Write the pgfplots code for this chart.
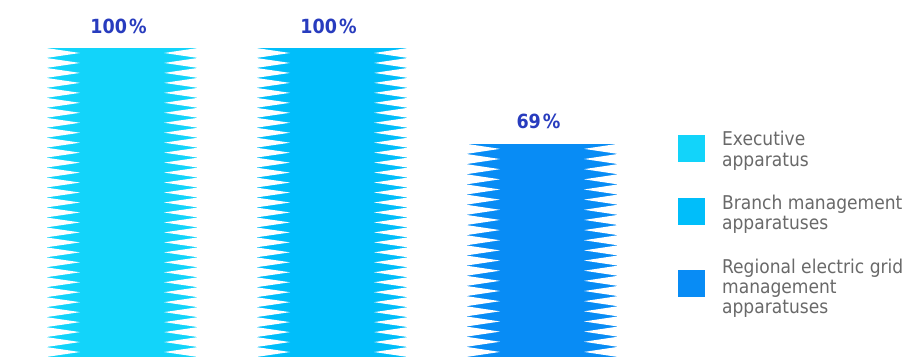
\documentclass[border=0pt]{standalone}
\usepackage{pgfplots}
\pgfplotsset{compat=1.18}
\usepackage{fontspec}
\setmainfont{DejaVu Sans Condensed}
\definecolor{cA}{RGB}{18,212,250}
\definecolor{cB}{RGB}{0,190,250}
\definecolor{cC}{RGB}{8,140,245}
\definecolor{labblue}{RGB}{40,60,190}
\definecolor{leggray}{RGB}{105,105,105}

\pgfdeclareplotmark{nothing}{}
\def\legshift{0pt}
\tikzset{legshift/.code={\def\legshift{#1}}}
% white notches along both sides of a bar whose top centre is the origin
\newcommand\drawspikes[1]{%
  \pgfmathsetmacro\shh{#1}%
  \pgfmathtruncatemacro\snn{max(1,round(\shh/10))}%
  \pgfmathsetmacro\spp{\shh/\snn}%
  \pgfsetfillcolor{white}%
  \foreach \k in {1,...,\snn}{%
    \pgfmathsetmacro\ylo{-\shh+(\k-1)*\spp}%
    \pgfmathsetmacro\ymid{-\shh+(\k-0.5)*\spp}%
    \pgfmathsetmacro\yhi{-\shh+\k*\spp}%
    \pgfpathmoveto{\pgfpoint{-76pt}{\ylo pt}}%
    \pgfpathlineto{\pgfpoint{-42pt}{\ymid pt}}%
    \pgfpathlineto{\pgfpoint{-76pt}{\yhi pt}}%
    \pgfpathclose
    \pgfpathmoveto{\pgfpoint{76pt}{\ylo pt}}%
    \pgfpathlineto{\pgfpoint{42pt}{\ymid pt}}%
    \pgfpathlineto{\pgfpoint{76pt}{\yhi pt}}%
    \pgfpathclose
    \pgfusepath{fill}%
  }%
}
\pgfplotsset{spiky/.style={
  scatter, mark=nothing,
  point meta=y, point meta min=0, point meta max=100,
  scatter/@pre marker code/.code={%
    \pgfmathsetmacro\barh{\pgfplotspointmetatransformed*0.309}%
    \pgfmathsetmacro\barv{\pgfplotspointmetatransformed/10}%
    \pgfscope\drawspikes{\barh}%
    \pgftext[base,at={\pgfpoint{-3.5pt}{15pt}}]{\color{labblue}\fontsize{19.5}{19.5}\selectfont\bfseries
      \pgfmathprintnumber[fixed,precision=0,assume math mode=true]{\barv}\kern2pt\%}%
  },
  scatter/@post marker code/.code={\endpgfscope},
}}

\begin{document}
\begin{tikzpicture}
\begin{axis}[
  x=210pt, y=3.09pt,
  xmin=-0.58095, xmax=3.73333, ymin=-0.971, ymax=115.534,
  axis line style={draw=none}, xtick=\empty, ytick=\empty,
  ybar, bar width=150pt, bar shift=0pt,
  clip=false,
  legend cell align=left,
  legend style={draw=none, fill=none, at={(0.7483,0.6356)}, anchor=north west,
    font=\fontsize{19}{20.3}\selectfont, text=leggray,
    nodes={align=left, inner sep=0pt}, row sep=27.5pt, column sep=17pt, inner sep=0pt},
  legend image code/.code={%
    \path (0pt,-15pt) (27pt,15pt);
    \fill[#1] (0pt,-13.5pt+\legshift) rectangle (27pt,13.5pt+\legshift);},
]
\addplot[fill=cA, draw=none, spiky, legshift=1.4pt] coordinates {(0,100)};
\addlegendentry{Executive\\apparatus}
\addplot[fill=cB, draw=none, spiky, legshift=1.7pt] coordinates {(1,100)};
\addlegendentry{Branch management\\apparatuses}
\addplot[fill=cC, draw=none, spiky, legshift=4pt] coordinates {(2,69)};
\addlegendentry{Regional electric grid\\management\\apparatuses}
\end{axis}
\end{tikzpicture}
\end{document}
